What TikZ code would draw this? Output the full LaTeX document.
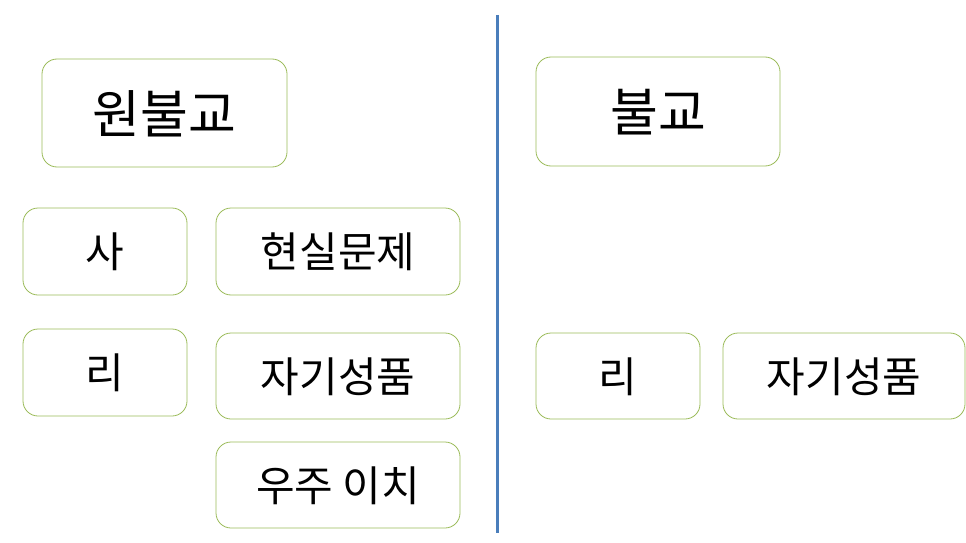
\documentclass[tikz,border=0pt]{standalone}
\usepackage{fontspec}
\newfontfamily\kr{Noto Sans CJK KR}
\definecolor{boxgreen}{HTML}{9BBB59}
\definecolor{lineblue}{HTML}{4A7EBB}
\tikzset{
  kbox/.style={draw=boxgreen, line width=0.8pt, rounded corners=15pt, fill=white, inner sep=0pt},
  big/.style={font=\kr\fontsize{52}{58}\selectfont},
  small/.style={font=\kr\fontsize{42}{48}\selectfont}
}
\begin{document}
\begin{tikzpicture}[x=1pt,y=-1pt]
\useasboundingbox (0,0) rectangle (966,543);
% boxes
\draw[kbox] (42,59) rectangle (287,167);
\node[big] (wonbul) at (164.5,114) {원불교};
\draw[kbox] (23,208) rectangle (187,295);
\node[small] (sa) at (105,252) {사};
\draw[kbox] (216,208) rectangle (460,295);
\node[small] (hyeonsil) at (338,252) {현실문제};
\draw[kbox] (23,329) rectangle (187,416);
\node[small] (ri1) at (105,373) {리};
\draw[kbox] (216,333) rectangle (460,419);
\node[small] (jagi1) at (338,377) {자기성품};
\draw[kbox] (216,442) rectangle (460,528);
\node[small] (uju) at (338,486) {우주 이치};
\draw[kbox] (536,57) rectangle (780,166);
\node[big] (bulgyo) at (658,112.5) {불교};
\draw[kbox] (536,333) rectangle (700,419);
\node[small] (ri2) at (618,377) {리};
\draw[kbox] (723,333) rectangle (965,419);
\node[small] (jagi2) at (844,377) {자기성품};
% divider
\coordinate (ltop) at (497,15);
\coordinate (lbot) at (497,533);
\draw[lineblue, line width=3pt] (ltop) -- (lbot);
\end{tikzpicture}
\end{document}
